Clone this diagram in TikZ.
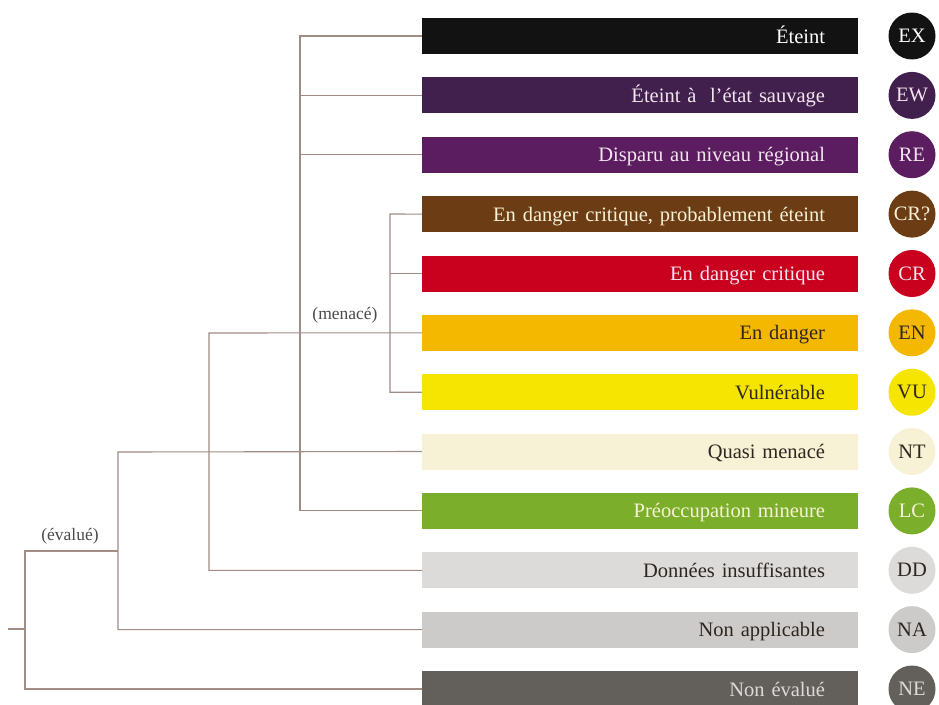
\documentclass[tikz,border=0pt]{standalone}
\usepackage{fontspec}
\setmainfont{Liberation Serif}
\definecolor{linebrown}{HTML}{A08C84}
\definecolor{labgray}{HTML}{4A4A4A}
\definecolor{cEX}{HTML}{121212}
\definecolor{cEW}{HTML}{42204E}
\definecolor{cRE}{HTML}{5C1D60}
\definecolor{cCRP}{HTML}{6C3C14}
\definecolor{cCR}{HTML}{C9001E}
\definecolor{cEN}{HTML}{F4B800}
\definecolor{cVU}{HTML}{F5E500}
\definecolor{cNT}{HTML}{F7F2D6}
\definecolor{cLC}{HTML}{7BAF2B}
\definecolor{cDD}{HTML}{DCDBD9}
\definecolor{cNA}{HTML}{CDCBC9}
\definecolor{cNE}{HTML}{63605C}
\definecolor{tdark}{HTML}{2E2620}
\definecolor{tlight}{HTML}{F3E6EE}

\begin{document}
\begin{tikzpicture}[x=1pt,y=-1pt,
	bar/.style={text width=370pt,align=right,inner xsep=33pt,inner ysep=0pt,minimum height=36pt,
		text height=16pt,text depth=2pt,font=\fontsize{20.5}{20.5}\selectfont},
	badge/.style={circle,minimum size=47pt,inner sep=0pt,font=\fontsize{20.5}{20.5}\selectfont},
	branch/.style={draw=linebrown,line width=1.1pt},
	group/.style={text=labgray,font=\fontsize{17.5}{17.5}\selectfont}]
	\useasboundingbox (0,0) rectangle (939,704);
	% categories
	\node[bar,fill=cEX,text=white] at (640,36) (ex) {Éteint};
	\node[bar,fill=cEW,text=tlight] at (640,95.4) (ew) {Éteint à~ l’état sauvage};
	\node[bar,fill=cRE,text=tlight] at (640,154.7) (re) {Disparu au niveau régional};
	\node[bar,fill=cCRP,text=cNT] at (640,214.1) (crp) {En danger critique, probablement éteint};
	\node[bar,fill=cCR,text=tlight] at (640,273.5) (cr) {En danger critique};
	\node[bar,fill=cEN,text=tdark] at (640,332.8) (en) {En danger};
	\node[bar,fill=cVU,text=tdark] at (640,392.2) (vu) {Vulnérable};
	\node[bar,fill=cNT,text=tdark] at (640,451.5) (nt) {Quasi menacé};
	\node[bar,fill=cLC,text=cNT] at (640,510.9) (lc) {Préoccupation mineure};
	\node[bar,fill=cDD,text=tdark] at (640,570.3) (dd) {Données insuffisantes};
	\node[bar,fill=cNA,text=tdark] at (640,629.6) (na) {Non applicable};
	\node[bar,fill=cNE,text=cDD] at (640,689) (ne) {Non évalué};
	% codes
	\node[badge,fill=cEX,text=white] at (912,36) (exc) {EX};
	\node[badge,fill=cEW,text=tlight] at (912,95.4) (ewc) {EW};
	\node[badge,fill=cRE,text=tlight] at (912,154.7) (rec) {RE};
	\node[badge,fill=cCRP,text=cNT] at (912,214.1) (crpc) {CR?};
	\node[badge,fill=cCR,text=tlight] at (912,273.5) (crc) {CR};
	\node[badge,fill=cEN,text=tdark] at (912,332.8) (enc) {EN};
	\node[badge,fill=cVU,text=tdark] at (912,392.2) (vuc) {VU};
	\node[badge,fill=cNT,text=tdark] at (912,451.5) (ntc) {NT};
	\node[badge,fill=cLC,text=cNT] at (912,510.9) (lcc) {LC};
	\node[badge,fill=cDD,text=tdark] at (912,570.3) (ddc) {DD};
	\node[badge,fill=cNA,text=tdark] at (912,629.6) (nac) {NA};
	\node[badge,fill=cNE,text=cDD] at (912,689) (nec) {NE};
	% tree
	\coordinate (stub) at (8,629);
	\coordinate (root) at (25,551);
	\coordinate (eval) at (118,452);
	\coordinate (known) at (209,333);
	\coordinate (threat) at (300,36);
	\coordinate (crit) at (390,214);
	\draw[branch] (stub) -- (stub -| root);
	\draw[branch] (ne.west) -| (root) -- (root -| eval);
	\draw[branch] (na.west) -| (eval) -- (nt.west);
	\draw[branch] (dd.west) -| (known) -- (en.west);
	\draw[branch] (lc.west) -| (threat) -- (ex.west);
	\foreach \b in {ew,re} \draw[branch] (threat |- \b.west) -- (\b.west);
	\draw[branch] (vu.west) -| (crit) -- (crp.west);
	\draw[branch] (crit |- cr.west) -- (cr.west);
	\node[group] at (345,315) (menace) {(menacé)};
	\node[group] at (70,536) (evalue) {(évalué)};
\end{tikzpicture}
\end{document}
